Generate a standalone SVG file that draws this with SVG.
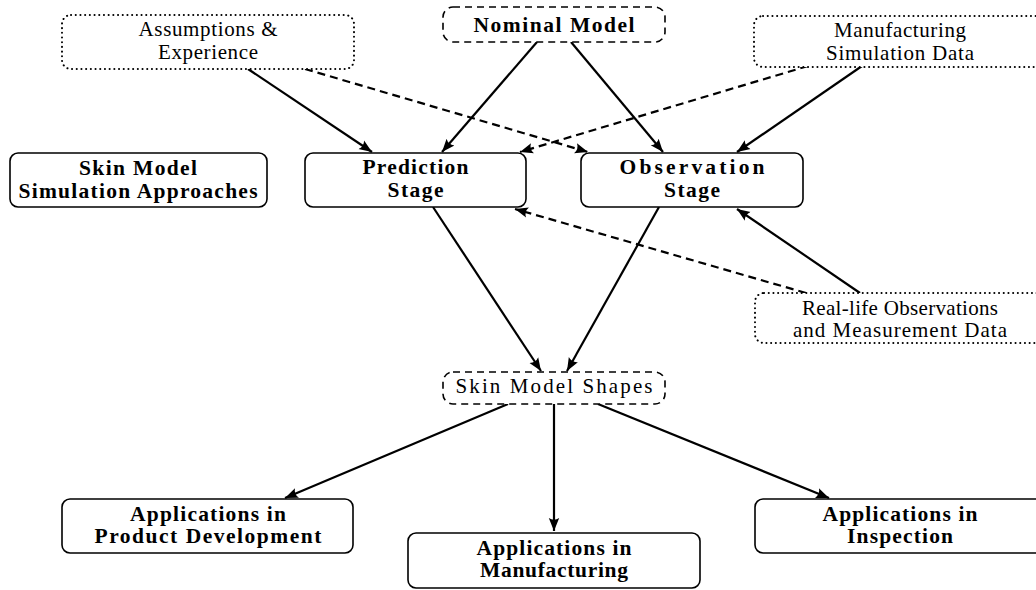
<svg xmlns="http://www.w3.org/2000/svg" width="1036" height="590" viewBox="0 0 1036 590">
<style>
  .box { fill: #ffffff; stroke: #000; stroke-width: 1.6; }
  .dashed { fill: #ffffff; stroke: #000; stroke-width: 1.6; stroke-dasharray: 7 5; }
  .dotted { fill: #ffffff; stroke: #000; stroke-width: 2; stroke-dasharray: 0.1 4.6; stroke-linecap: round; }
  .t { font-family: "Liberation Serif", "Times New Roman", serif; font-size: 21px; fill: #000; text-anchor: middle; }
  .b { font-weight: bold; font-size: 21.5px; }
  .e { fill: none; stroke: #000; stroke-width: 2.2; marker-end: url(#ah); }
  .ed { fill: none; stroke: #000; stroke-width: 2.2; stroke-dasharray: 8 5; marker-end: url(#ah); }
</style>
<defs>
  <marker id="ah" markerUnits="userSpaceOnUse" markerWidth="14" markerHeight="12" refX="13" refY="6" orient="auto">
    <path d="M0,0.8 Q3.5,6 0,11.2 L13,6 Z" fill="#000"/>
  </marker>
</defs>
<rect width="1036" height="590" fill="#ffffff"/>

<g id="connectors">
  <path class="e" d="M248,69 L372,152"/>
  <path class="ed" d="M305,69 L588,152"/>
  <path class="e" d="M537,42 L442,152"/>
  <path class="e" d="M571,42 L663,152"/>
  <path class="ed" d="M808,66 L520,152"/>
  <path class="e" d="M862,66 L737,152"/>
  <path class="e" d="M433,207 L541,371"/>
  <path class="e" d="M659,207 L567,371"/>
  <path class="ed" d="M806,293 L515,209"/>
  <path class="e" d="M860,293 L737,209"/>
  <path class="e" d="M508,404 L285,498"/>
  <path class="e" d="M554,404 L554,531"/>
  <path class="e" d="M598,404 L829,498"/>
</g>

<g id="assumptions">
  <rect class="dotted" x="62" y="15" width="292" height="54" rx="9"/>
  <text class="t" x="208" y="36" textLength="139" lengthAdjust="spacing">Assumptions &amp;</text>
  <text class="t" x="208" y="59" textLength="100" lengthAdjust="spacing">Experience</text>
</g>

<g id="nominal">
  <rect class="dashed" x="443" y="7" width="222" height="35" rx="10"/>
  <text class="t b" x="554" y="32" textLength="161" lengthAdjust="spacing">Nominal Model</text>
</g>

<g id="manufacturing-data">
  <rect class="dotted" x="754" y="16" width="292" height="51" rx="9"/>
  <text class="t" x="900" y="37" textLength="132" lengthAdjust="spacing">Manufacturing</text>
  <text class="t" x="900" y="60" textLength="148" lengthAdjust="spacing">Simulation Data</text>
</g>

<g id="simulation-approaches">
  <rect class="box" x="10" y="153" width="257" height="54" rx="8"/>
  <text class="t b" x="138" y="175" textLength="118" lengthAdjust="spacing">Skin Model</text>
  <text class="t b" x="138" y="198" textLength="239" lengthAdjust="spacing">Simulation Approaches</text>
</g>

<g id="prediction">
  <rect class="box" x="305" y="153" width="221" height="54" rx="8"/>
  <text class="t b" x="415.5" y="174" textLength="106" lengthAdjust="spacing">Prediction</text>
  <text class="t b" x="415.5" y="197" textLength="56" lengthAdjust="spacing">Stage</text>
</g>

<g id="observation">
  <rect class="box" x="581" y="153" width="222" height="54" rx="8"/>
  <text class="t b" x="692" y="174" textLength="145" lengthAdjust="spacing">Observation</text>
  <text class="t b" x="692" y="197" textLength="56" lengthAdjust="spacing">Stage</text>
</g>

<g id="real-life">
  <rect class="dotted" x="755" y="293" width="290" height="50" rx="9"/>
  <text class="t" x="900" y="315" textLength="196" lengthAdjust="spacing">Real-life Observations</text>
  <text class="t" x="900" y="337" textLength="214" lengthAdjust="spacing">and Measurement Data</text>
</g>

<g id="skin-model-shapes">
  <rect class="dashed" x="443" y="372" width="222" height="32" rx="10"/>
  <text class="t" x="554" y="393" textLength="197" lengthAdjust="spacing">Skin Model Shapes</text>
</g>

<g id="app-product">
  <rect class="box" x="62" y="499" width="291" height="54" rx="8"/>
  <text class="t b" x="208" y="521" textLength="156" lengthAdjust="spacing">Applications in</text>
  <text class="t b" x="208" y="543" textLength="227" lengthAdjust="spacing">Product Development</text>
</g>

<g id="app-manufacturing">
  <rect class="box" x="408" y="533" width="292" height="55" rx="8"/>
  <text class="t b" x="554" y="555" textLength="155" lengthAdjust="spacing">Applications in</text>
  <text class="t b" x="554" y="577" textLength="148" lengthAdjust="spacing">Manufacturing</text>
</g>

<g id="app-inspection">
  <rect class="box" x="755" y="499" width="291" height="54" rx="8"/>
  <text class="t b" x="900" y="521" textLength="155" lengthAdjust="spacing">Applications in</text>
  <text class="t b" x="900" y="543" textLength="106" lengthAdjust="spacing">Inspection</text>
</g>
</svg>
